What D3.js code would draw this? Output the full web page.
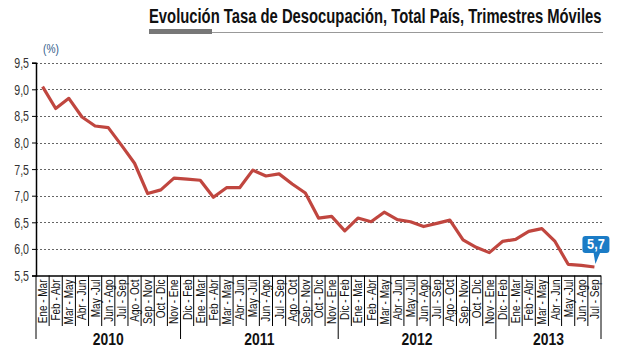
<!DOCTYPE html>
<html><head><meta charset="utf-8">
<script src="https://cdn.jsdelivr.net/npm/d3@7"></script>
<style>body{margin:0;background:#fff;}svg{display:block;}</style>
</head><body>
<svg id="c" width="640" height="350"></svg>
<script>
const title = "Evolución Tasa de Desocupación, Total País, Trimestres Móviles";
const unitLabel = "(%)";
const years = ["2010", "2011", "2012", "2013"];
const labels2010 = ["Ene - Mar","Feb - Abr","Mar - May","Abr - Jun","May -Jul","Jun - Ago","Jul - Sep","Ago - Oct","Sep - Nov","Oct - Dic","Nov - Ene"];
const labels2011 = ["Dic - Feb","Ene - Mar","Feb - Abr","Mar - May","Abr - Jun","May -Jul","Jun - Ago","Jul - Sep","Ago - Oct","Sep - Nov","Oct - Dic","Nov - Ene"];
const labels2012 = ["Dic - Feb","Ene - Mar","Feb - Abr","Mar - May","Abr - Jun","May -Jul","Jun - Ago","Jul - Sep","Ago - Oct","Sep - Nov","Oct - Dic","Nov - Ene"];
const labels2013 = ["Dic - Feb","Ene - Mar","Feb - Abr","Mar - May","Abr - Jun","May -Jul","Jun - Ago","Jul - Sep"];
const values = [9.05,8.64,8.83,8.48,8.31,8.28,7.95,7.61,7.04,7.11,7.33,
                7.31,7.29,6.97,7.15,7.15,7.48,7.37,7.41,7.22,7.05,6.58,6.61,
                6.34,6.58,6.51,6.69,6.55,6.51,6.42,6.48,6.54,6.17,6.03,5.93,
                6.14,6.18,6.33,6.38,6.14,5.71,5.69,5.66];
const yTicks = [5.5,6.0,6.5,7.0,7.5,8.0,8.5,9.0,9.5];
const lastLabel = "5,7";

(function () {
const groups = [labels2010, labels2011, labels2012, labels2013];
const cats = [];
groups.forEach((g, gi) => g.forEach((l, i) => cats.push({key: gi + "-" + i, label: l, year: gi})));

const svg = d3.select("#c");
const pl = 36, pr = 601, pt = 62.7, pb = 275.5;
const x = d3.scaleBand().domain(cats.map(d => d.key)).range([pl, pr]);
const y = d3.scaleLinear().domain([5.5, 9.5]).range([pb, pt]);
const fmt = v => d3.format(".1f")(v).replace(".", ",");
const tfont = "'Liberation Sans','Arial',sans-serif";
const sx = 0.76;

// Title (condensed by horizontal scaling to fit the reference width)
const tt = svg.append("text").attr("x", 0).attr("y", 0)
  .attr("font-family", tfont).attr("font-weight", "bold").attr("font-size", 19.5)
  .attr("fill", "#111").text(title);
const tw = tt.node().getComputedTextLength() || 570;
tt.attr("transform", `translate(149,23) scale(${453 / tw},1)`);
svg.append("line").attr("x1", 149).attr("x2", 603).attr("y1", 32.5).attr("y2", 32.5)
  .attr("stroke", "#999").attr("stroke-width", 1);
svg.append("rect").attr("x", 149).attr("y", 29).attr("width", 63).attr("height", 5).attr("fill", "#777");

// Grid
svg.append("g").selectAll("line").data(yTicks.filter(t => t > 5.5)).join("line")
  .attr("x1", pl).attr("x2", 602).attr("y1", d => Math.round(y(d)) + 0.5).attr("y2", d => Math.round(y(d)) + 0.5)
  .attr("stroke", "#666").attr("stroke-width", 1).attr("stroke-dasharray", "2,2");

// Y axis
const ya = svg.append("g").attr("transform", `translate(${pl},0)`)
  .call(d3.axisLeft(y).tickValues(yTicks).tickFormat(fmt).tickSize(4).tickPadding(3));
ya.select(".domain").attr("stroke", "#000").attr("stroke-width", 1.5);
ya.selectAll(".tick line").attr("stroke", "#000");
ya.selectAll("text").attr("font-family", tfont).attr("font-size", 14).attr("fill", "#333")
  .attr("transform", `scale(${sx},1)`).attr("x", -7 / sx).attr("dy", "0.36em");

svg.append("text").attr("transform", `translate(51,53) scale(0.85,1)`).attr("text-anchor", "middle")
  .attr("font-family", tfont).attr("font-size", 12).attr("fill", "#2f5a88").text(unitLabel);

// X axis baseline
svg.append("line").attr("x1", pl).attr("x2", pr).attr("y1", pb + 0.5).attr("y2", pb + 0.5)
  .attr("stroke", "#000").attr("stroke-width", 1.5);

// Category separators
const yearStart = new Set();
let acc = 0;
groups.forEach(g => { yearStart.add(acc); acc += g.length; });
const seps = d3.range(cats.length + 1);
svg.append("g").selectAll("line").data(seps).join("line")
  .attr("x1", i => i < cats.length ? x(cats[i].key) : pr)
  .attr("x2", i => i < cats.length ? x(cats[i].key) : pr)
  .attr("y1", pb).attr("y2", i => (yearStart.has(i) || i === cats.length) ? 339 : 326)
  .attr("stroke", "#000").attr("stroke-width", 1);

// Category labels
svg.append("g").selectAll("text").data(cats).join("text")
  .attr("transform", d => `translate(${x(d.key) + x.bandwidth() / 2 + 4.5},279.5) rotate(-90) scale(0.8,1)`)
  .attr("text-anchor", "end")
  .attr("font-family", tfont).attr("font-size", 12.5).attr("fill", "#111")
  .text(d => d.label);

// Year labels
let start = 0;
groups.forEach((g, gi) => {
  const x0 = x(cats[start].key);
  const x1 = start + g.length < cats.length ? x(cats[start + g.length].key) : pr;
  svg.append("text").attr("transform", `translate(${(x0 + x1) / 2},345) scale(0.82,1)`).attr("text-anchor", "middle")
    .attr("font-family", tfont).attr("font-weight", "bold").attr("font-size", 17).attr("fill", "#111")
    .text(years[gi]);
  start += g.length;
});

// Line
const line = d3.line().x((d, i) => x(cats[i].key) + x.bandwidth() / 2).y(d => y(d));
svg.append("path").datum(values).attr("d", line).attr("fill", "none")
  .attr("stroke", "#c0463f").attr("stroke-width", 3.2).attr("stroke-linejoin", "round");

// Callout
const li = values.length - 1;
const px = x(cats[li].key) + x.bandwidth() / 2, py = y(values[li]);
const cg = svg.append("g");
cg.append("path").attr("d", `M${px - 1},${py - 15} L${px + 1},${py - 3} L${px + 6},${py - 15} Z`).attr("fill", "#1b7cc6");
cg.append("rect").attr("x", px - 12).attr("y", py - 31).attr("width", 27).attr("height", 17).attr("rx", 3)
  .attr("fill", "#1b7cc6");
cg.append("text").attr("transform", `translate(${px + 1.5},${py - 17.5}) scale(0.85,1)`).attr("text-anchor", "middle")
  .attr("font-family", tfont).attr("font-weight", "bold").attr("font-size", 15).attr("fill", "#fff").text(lastLabel);
})();
</script>
</body></html>
